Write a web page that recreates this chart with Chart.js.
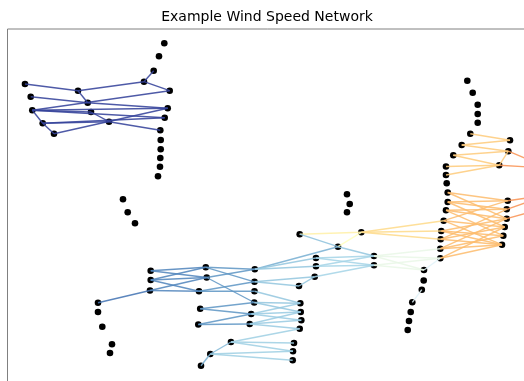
<!DOCTYPE html>
<html>
<head>
<meta charset="utf-8">
<script src="https://cdn.jsdelivr.net/npm/chart.js@4/dist/chart.umd.min.js"></script>
<style>
  html, body { margin: 0; padding: 0; background: #fff; overflow: hidden; }
  #wrap { position: relative; width: 534px; height: 418px; }
</style>
</head>
<body>
<div id="wrap"><canvas id="netChart"></canvas></div>
<script>
// node positions (layout units, x to the right, y upward)
const nodeX = [157.3,152,146.7,137,162.7,18,23.7,71,80.7,25.3,84,160.7,157.7,35.7,102,47,153.3,153.7,153.7,153.3,153,151,
  116,120.7,128,
  91,91,95.3,105,103,
  143.7,143.7,143,198.8,199.7,192,247.8,247.5,247.5,247.2,193.2,244.2,191.3,242.7,293.3,293.7,294.3,292.7,224,203.3,194,287,286,285.7,
  292.7,331,354.3,309,309,307.7,292,367,367,340,342.7,340,
  417,416.7,414.8,405.3,403.7,402,400.7,
  439.7,440.7,440.7,439,436.7,434.3,433.7,433.3,433.3,
  500.7,499.7,499.7,497.7,496.3,495,
  460.3,465.7,470.7,470.7,470.7,463.3,454.7,446.3,439,439,503,501.3,492.2,
  541,541,541];
const nodeY = [369.7,356.7,342.3,331.3,322.3,329,316.3,322.3,310.3,302.7,301,304.7,295.3,289.7,291.3,279.3,282.7,273,263.7,255,246.3,236.7,
  213.7,200.7,189.7,
  110.3,101,86.3,68.7,60,
  142.3,133,122.5,145.7,135.5,121.7,143.8,131.2,121.7,110.5,104.2,99,88.5,89,109.7,101,92.7,84.3,71,59,47.3,70,61.7,52.7,
  178.8,166.3,180.7,155,146.7,136.3,127,157,147.7,218.7,209,200.7,
  143,132.5,123.3,110.7,101,92,83,
  229.7,220.5,211,202.7,192.3,182,173.7,164.3,154.7,
  212.3,203.7,194.3,186,177.3,168.3,
  332.3,320.3,308.3,299,290.3,279.3,268,257.7,246.5,238,272.7,261.8,247.7,
  245,218,206];

// edges as [from, to] node indices
const edgeList = [
  [2,3],[3,4],[5,7],[7,3],[7,8],[6,8],[8,11],[9,4],[9,11],[9,12],[9,10],[10,14],[9,13],[13,12],[13,14],[15,13],[15,11],[14,16],
  [32,25],
  [30,33],[30,34],[31,33],[31,34],[31,35],[32,34],[32,35],
  [33,36],[33,37],[34,36],[34,39],[35,38],[35,37],
  [40,39],[40,41],[42,43],[42,41],
  [36,57],[36,58],[37,59],[37,60],[38,44],[39,44],[39,45],[41,44],[41,45],[41,46],[43,45],[43,46],[43,47],
  [48,47],[48,51],[48,52],[49,48],[49,52],[49,53],[50,49],[59,60],
  [55,36],[54,55],[55,61],[57,61],[57,62],[58,61],[58,62],[59,62],
  [61,80],[61,81],[61,66],[62,81],[62,66],[66,81],[68,69],
  [55,56],[54,56],
  [56,77],[56,78],[56,79],
  [74,82],[74,84],[75,82],[75,83],[75,85],[76,83],[76,84],[76,86],[77,82],[77,85],[77,87],[78,84],[78,86],
  [79,83],[79,85],[79,87],[80,84],[80,86],[81,85],[81,87],[80,87],[78,87],
  [82,102],[83,102],[84,103],
  [93,98],[98,94],[94,99],[95,99],[95,100],[96,100],[97,100],[99,100],
  [99,101],[100,101]
];
// normalised wind speed of each edge (0..1)
const edgeWeight = [
  0.02,0.02,0.02,0.02,0.02,0.02,0.02,0.02,0.02,0.02,0.02,0.02,0.02,0.02,0.02,0.02,0.02,0.02,
  0.1,
  0.13,0.13,0.13,0.13,0.13,0.13,0.13,
  0.16,0.16,0.16,0.16,0.16,0.16,
  0.16,0.16,0.16,0.16,
  0.26,0.26,0.26,0.26,0.26,0.26,0.26,0.27,0.27,0.27,0.27,0.27,0.27,
  0.28,0.28,0.28,0.23,0.28,0.28,0.21,0.26,
  0.21,0.25,0.26,0.29,0.29,0.29,0.29,0.29,
  0.43,0.43,0.43,0.43,0.43,0.4,0.4,
  0.5,0.55,
  0.61,0.61,0.61,
  0.67,0.67,0.67,0.67,0.67,0.67,0.67,0.67,0.67,0.67,0.67,0.67,0.67,
  0.67,0.67,0.67,0.67,0.67,0.67,0.67,0.67,0.67,
  0.74,0.74,0.74,
  0.64,0.64,0.64,0.64,0.64,0.64,0.64,0.64,
  0.74,0.74
];

const chartTitle = 'Example Wind Speed Network';

// RdYlBu_r colour map
const cmapStops = ['#313695','#4575b4','#74add1','#abd9e9','#e0f3f8','#ffffbf','#fee090','#fdae61','#f46d43','#d73027','#a50026'];

function hexToRgb(h) {
  return [parseInt(h.slice(1,3),16), parseInt(h.slice(3,5),16), parseInt(h.slice(5,7),16)];
}

function cmap(v, alpha) {
  v = Math.max(0, Math.min(1, v));
  const pos = v * (cmapStops.length - 1);
  const i = Math.min(Math.floor(pos), cmapStops.length - 2);
  const t = pos - i;
  const a = hexToRgb(cmapStops[i]);
  const b = hexToRgb(cmapStops[i + 1]);
  const c = a.map((x, k) => Math.round(x + (b[k] - x) * t));
  return `rgba(${c[0]},${c[1]},${c[2]},${alpha})`;
}

const nodePoints = nodeX.map((x, i) => ({ x: x, y: nodeY[i] }));

const edgeSets = edgeList.map((e, i) => ({
  data: [nodePoints[e[0]], nodePoints[e[1]]],
  showLine: true,
  borderColor: cmap(edgeWeight[i], 0.88),
  borderWidth: 1.4,
  pointRadius: 0,
  order: 1
}));

// left and top frame lines
const framePlugin = {
  id: 'frame',
  afterDraw(chart) {
    const a = chart.chartArea;
    const ctx = chart.ctx;
    ctx.save();
    ctx.strokeStyle = '#808080';
    ctx.lineWidth = 1;
    ctx.beginPath();
    ctx.moveTo(a.left + 0.5, a.bottom);
    ctx.lineTo(a.left + 0.5, a.top + 0.5);
    ctx.lineTo(a.right, a.top + 0.5);
    ctx.stroke();
    ctx.restore();
  }
};

new Chart(document.getElementById('netChart'), {
  type: 'scatter',
  data: {
    datasets: [{
      data: nodePoints,
      pointRadius: 3.3,
      pointBackgroundColor: '#000',
      pointBorderWidth: 0,
      showLine: false,
      order: 2
    }].concat(edgeSets)
  },
  options: {
    responsive: true,
    maintainAspectRatio: false,
    animation: false,
    events: [],
    layout: { padding: { left: 7, right: 7, top: 0, bottom: 5 } },
    plugins: {
      legend: { display: false },
      tooltip: { enabled: false },
      title: {
        display: true,
        text: chartTitle,
        color: '#000',
        font: { family: 'DejaVu Sans', size: 14, weight: 'normal' },
        padding: { top: 8.6, bottom: 3.1 }
      }
    },
    scales: {
      x: { type: 'linear', min: 0, max: 520, display: false },
      y: { type: 'linear', min: 0, max: 384.5, display: false }
    }
  },
  plugins: [framePlugin]
});
</script>
</body>
</html>
